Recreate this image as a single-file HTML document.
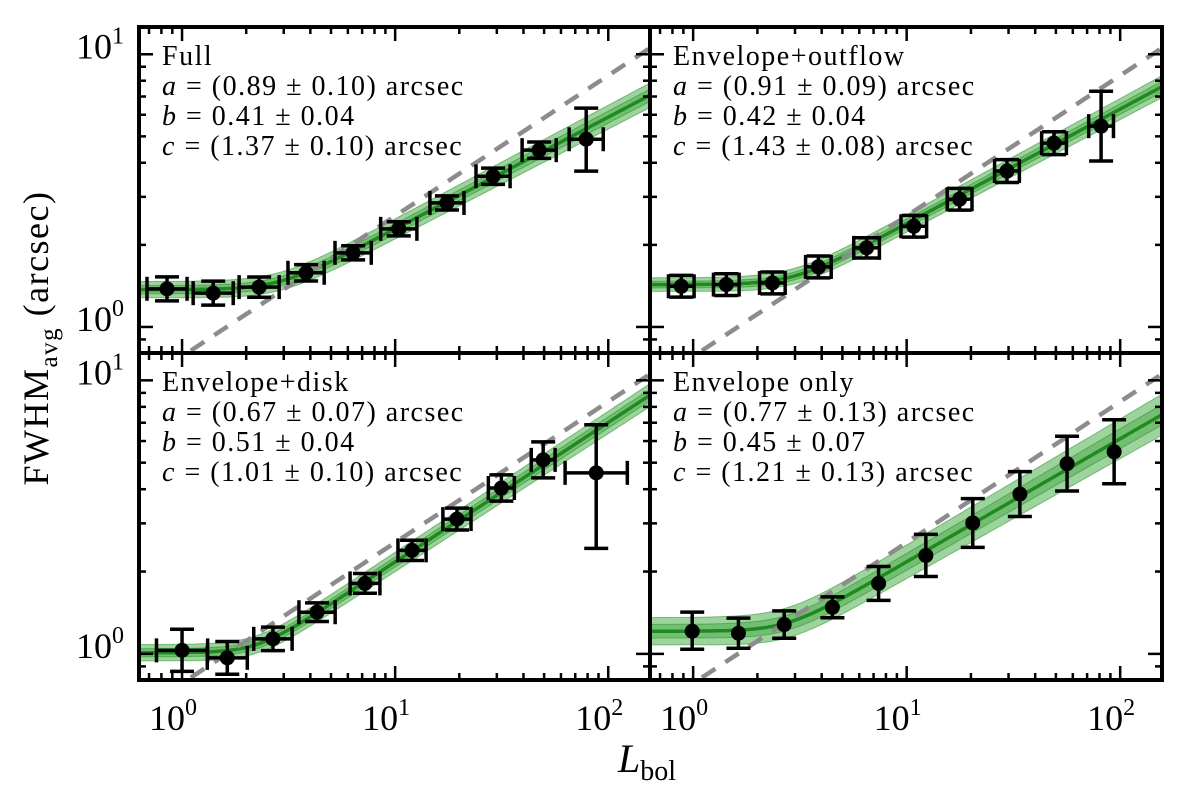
<!DOCTYPE html>
<html><head><meta charset="utf-8">
<style>
html,body{margin:0;padding:0;background:#fff;}
svg{display:block;font-family:"Liberation Serif",serif;}
</style></head>
<body>
<svg id="chart" width="1200" height="786" viewBox="0 0 1200 786" xmlns="http://www.w3.org/2000/svg">
<text x="48" y="338" font-size="36" letter-spacing="1.5" text-anchor="middle" transform="rotate(-90 48 338)">FWHM<tspan font-size="25" dy="9">avg</tspan><tspan dy="-9"> (arcsec)</tspan></text>
<text x="618" y="772" font-size="40" font-style="italic">L<tspan font-style="normal" font-size="28" dy="8">bol</tspan></text>
</svg>
<script>
// ---------- data ----------
const fullL=[0.85,1.40,2.30,3.82,6.35,10.4,17.5,28.8,47.4,78.8];
const fullY=[1.38,1.33,1.40,1.58,1.87,2.29,2.85,3.57,4.45,4.88];
const fullYLo=[0.044,0.044,0.037,0.03,0.026,0.026,0.026,0.03,0.03,0.117];
const fullYHi=[0.044,0.044,0.037,0.03,0.026,0.026,0.026,0.03,0.03,0.114];
const fullXErr=[0.094,0.094,0.094,0.085,0.085,0.085,0.08,0.08,0.08,0.08];

const outL=[0.88,1.43,2.35,3.86,6.49,10.8,17.7,29.5,49.0,81.4];
const outY=[1.41,1.43,1.45,1.66,1.95,2.34,2.94,3.73,4.72,5.45];
const outYLo=[0.04,0.04,0.04,0.04,0.037,0.04,0.04,0.042,0.042,0.128];
const outYHi=[0.04,0.04,0.04,0.04,0.037,0.04,0.04,0.042,0.042,0.128];
const outXErr=[0.06,0.06,0.06,0.06,0.06,0.06,0.058,0.058,0.058,0.058];

const diskL=[1.0,1.63,2.67,4.30,7.22,12.0,19.5,31.5,49.5,87.8];
const diskY=[1.03,0.967,1.135,1.42,1.81,2.39,3.11,4.04,5.12,4.59];
const diskYLo=[0.077,0.06,0.043,0.034,0.036,0.037,0.04,0.048,0.066,0.276];
const diskYHi=[0.077,0.06,0.043,0.034,0.036,0.037,0.04,0.048,0.066,0.176];
const diskXErr=[0.12,0.094,0.09,0.085,0.07,0.066,0.066,0.061,0.056,0.146];

const envL=[0.99,1.63,2.67,4.49,7.39,12.3,20.4,33.9,56.4,93.7];
const envY=[1.21,1.19,1.28,1.48,1.81,2.29,3.01,3.84,4.96,5.48];
const envYLo=[0.066,0.055,0.05,0.038,0.062,0.077,0.089,0.082,0.1,0.117];
const envYHi=[0.07,0.055,0.05,0.038,0.062,0.077,0.089,0.082,0.1,0.117];
const envXErr=[0,0,0,0,0,0,0,0,0,0];

const fitA=[0.89,0.91,0.67,0.77];
const fitB=[0.41,0.42,0.51,0.45];
const fitC=[1.37,1.43,1.01,1.21];
const panelTitles=["Full","Envelope+outflow","Envelope+disk","Envelope only"];
const aText=["(0.89 ± 0.10) arcsec","(0.91 ± 0.09) arcsec","(0.67 ± 0.07) arcsec","(0.77 ± 0.13) arcsec"];
const bText=["0.41 ± 0.04","0.42 ± 0.04","0.51 ± 0.04","0.45 ± 0.07"];
const cText=["(1.37 ± 0.10) arcsec","(1.43 ± 0.08) arcsec","(1.01 ± 0.10) arcsec","(1.21 ± 0.13) arcsec"];
const bandLo=[0.03,0.025,0.03,0.05];
const bandHi=[0.045,0.04,0.042,0.075];
const xTickLabels=["0","1","2"];
const yTickLabels=["0","1"];

// ---------- layout ----------
const NS="http://www.w3.org/2000/svg";
const svg=document.getElementById('chart');
const XMIN=Math.log10(0.628), XMAX=Math.log10(157);
const YMIN=-0.0955, YMAX=1.1;
const panels=[
 {x0:139,x1:650,y0:27,y1:353,L:fullL,Y:fullY,lo:fullYLo,hi:fullYHi,xe:fullXErr,name:'full'},
 {x0:650,x1:1162,y0:27,y1:353,L:outL,Y:outY,lo:outYLo,hi:outYHi,xe:outXErr,name:'envelope-outflow'},
 {x0:139,x1:650,y0:353,y1:680,L:diskL,Y:diskY,lo:diskYLo,hi:diskYHi,xe:diskXErr,name:'envelope-disk'},
 {x0:650,x1:1162,y0:353,y1:680,L:envL,Y:envY,lo:envYLo,hi:envYHi,xe:envXErr,name:'envelope-only'}
];
function mk(tag,attrs,parent){const e=document.createElementNS(NS,tag);for(const k in attrs)e.setAttribute(k,attrs[k]);(parent||svg).appendChild(e);return e;}

panels.forEach((p,i)=>{
 const sx=v=>p.x0+(Math.log10(v)-XMIN)/(XMAX-XMIN)*(p.x1-p.x0);
 const sy=v=>p.y1-(Math.log10(v)-YMIN)/(YMAX-YMIN)*(p.y1-p.y0);
 const g=mk('g',{});
 
 
 const cid='clip'+i;
 const defs=mk('defs',{},g);
 const cp=mk('clipPath',{id:cid},defs);
 mk('rect',{x:p.x0,y:p.y0,width:p.x1-p.x0,height:p.y1-p.y0},cp);
 const inner=mk('g',{'clip-path':'url(#'+cid+')'},g);
 const a=fitA[i],b=fitB[i],c=fitC[i];
 const f=L=>Math.pow(Math.pow(c,10)+Math.pow(a*Math.pow(L,b),10),0.1);
 const hw=L=>{const t=Math.min(1,Math.max(0,Math.log10(L)/2.2));return bandLo[i]+(bandHi[i]-bandLo[i])*t;};
 const Ls=[];for(let k=0;k<=200;k++)Ls.push(Math.pow(10,XMIN+(XMAX-XMIN)*k/200));
 [1,0.5].forEach((s,j)=>{
  let d='';Ls.forEach((L,k)=>{d+=(k?'L':'M')+sx(L).toFixed(1)+' '+sy(f(L)*Math.pow(10,hw(L)*s)).toFixed(1);});
  for(let k=Ls.length-1;k>=0;k--){const L=Ls[k];d+='L'+sx(L).toFixed(1)+' '+sy(f(L)*Math.pow(10,-hw(L)*s)).toFixed(1);}
  const band=mk('path',{d:d+'Z',fill:j?'rgba(40,150,40,0.35)':'rgba(60,170,60,0.5)',stroke:'rgba(30,140,30,0.5)','stroke-width':1},inner);
  
  
 });
 let dl='';Ls.forEach((L,k)=>{dl+=(k?'L':'M')+sx(L).toFixed(1)+' '+sy(f(L)).toFixed(1);});
 const fl=mk('path',{d:dl,fill:'none',stroke:'#1f8a1f','stroke-width':3.5},inner);
 
 
 const dd=mk('line',{x1:sx(1.1),y1:sy(0.78*Math.pow(1.1,0.515)),x2:sx(160),y2:sy(0.78*Math.pow(160,0.515)),stroke:'#8c8c8c','stroke-width':4.5,'stroke-dasharray':'16 12'},inner);
 
 
 p.L.forEach((L,k)=>{
  const pg=mk('g',{stroke:'#000','stroke-width':3.5,fill:'#000'},inner);
  
  
  const cx=sx(L),cy=sy(p.Y[k]);
  const yt=sy(p.Y[k]*Math.pow(10,p.hi[k])),yb=sy(p.Y[k]/Math.pow(10,p.lo[k]));
  mk('line',{x1:cx,y1:yt,x2:cx,y2:yb},pg);
  mk('line',{x1:cx-12,y1:yt,x2:cx+12,y2:yt},pg);
  mk('line',{x1:cx-12,y1:yb,x2:cx+12,y2:yb},pg);
  if(p.xe[k]>0){
   const xl=sx(L/Math.pow(10,p.xe[k])),xr=sx(L*Math.pow(10,p.xe[k]));
   mk('line',{x1:xl,y1:cy,x2:xr,y2:cy},pg);
   mk('line',{x1:xl,y1:cy-12,x2:xl,y2:cy+12},pg);
   mk('line',{x1:xr,y1:cy-12,x2:xr,y2:cy+12},pg);
  }
  mk('circle',{cx:cx,cy:cy,r:7.5,stroke:'none'},pg);
 });
 const tg=mk('g',{stroke:'#000','stroke-width':2.5},g);
 for(let e=-1;e<=2;e++)for(let m=1;m<=9;m++){
  const v=m*Math.pow(10,e),lv=Math.log10(v);
  if(lv<XMIN||lv>XMAX)continue;
  const x=sx(v),len=m===1?14:7;
  mk('line',{x1:x,y1:p.y1,x2:x,y2:p.y1-len},tg);
  mk('line',{x1:x,y1:p.y0,x2:x,y2:p.y0+len},tg);
 }
 for(let e=-1;e<=1;e++)for(let m=1;m<=9;m++){
  const v=m*Math.pow(10,e),lv=Math.log10(v);
  if(lv<YMIN||lv>YMAX)continue;
  const y=sy(v),len=m===1?14:7;
  mk('line',{x1:p.x0,y1:y,x2:p.x0+len,y2:y},tg);
  mk('line',{x1:p.x1,y1:y,x2:p.x1-len,y2:y},tg);
 }
 const fr=mk('rect',{x:p.x0,y:p.y0,width:p.x1-p.x0,height:p.y1-p.y0,fill:'none',stroke:'#000','stroke-width':4},g);
 
 
 if(i>=2) xTickLabels.forEach(t=>{
  const x=sx(Math.pow(10,+t));
  const tx=mk('text',{x:x-9,y:730,'font-size':36,'text-anchor':'middle'},g);
  
  
  tx.innerHTML='10<tspan font-size="24" dy="-15">'+t+'</tspan>';
 });
 if(i%2===0) yTickLabels.forEach(t=>{
  const y=sy(Math.pow(10,+t));
  const tx=mk('text',{x:124,y:y+4,'font-size':36,'text-anchor':'end'},g);
  
  
  tx.innerHTML='10<tspan font-size="24" dy="-15">'+t+'</tspan>';
 });
 const ax=p.x0+23,ay=p.y0+38;
 const ann=mk('text',{x:ax,y:ay,'font-size':28,'letter-spacing':1.5},g);
 
 
 ann.innerHTML='<tspan x="'+ax+'">'+panelTitles[i]+'</tspan>'+
  '<tspan x="'+ax+'" dy="30"><tspan font-style="italic">a</tspan> = '+aText[i]+'</tspan>'+
  '<tspan x="'+ax+'" dy="30"><tspan font-style="italic">b</tspan> = '+bText[i]+'</tspan>'+
  '<tspan x="'+ax+'" dy="30"><tspan font-style="italic">c</tspan> = '+cText[i]+'</tspan>';
});
</script>
</body></html>
